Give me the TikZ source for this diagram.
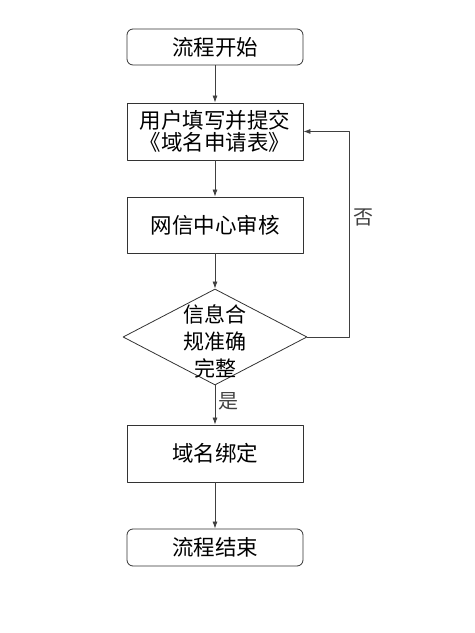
\documentclass[tikz,border=0pt]{standalone}
\usepackage{fontspec}
\setmainfont{Noto Sans CJK SC}
\usetikzlibrary{shapes.geometric,arrows.meta}
\begin{document}
\begin{tikzpicture}[>={Latex[length=7bp,width=5bp]},line join=bevel,
  procbox/.style={draw=black!80,line width=0.8bp,minimum width=176bp,inner sep=0pt,align=center,font=\fontsize{21.5bp}{22bp}\selectfont},
  termbox/.style={procbox,rounded corners=6bp,minimum height=37bp},
  flowline/.style={black!75,line width=0.8bp,->},
  edgelabel/.style={font=\fontsize{20bp}{22bp}\selectfont}]
\useasboundingbox (0bp,0bp) rectangle (475bp,633bp);
%%
\node (node_start) at (215bp,586bp) [termbox,minimum height=36bp] {流程开始};
  \node (node_fill) at (215bp,501.5bp) [procbox,minimum height=57bp] {用户填写并提交\\《域名申请表》};
  \node (node_review) at (215bp,408bp) [procbox,minimum height=56bp] {网信中心审核};
  \node (node_check) at (215bp,296bp) [draw=black!80,line width=0.8bp,diamond,aspect=1.92,minimum width=184bp,minimum height=96bp,inner sep=0pt,
    label={[align=center,font=\fontsize{21bp}{27bp}\selectfont,yshift=-4bp]center:信息合\\规准确\\完整}] {};
  \node (node_bind) at (215bp,179.5bp) [procbox,minimum height=57bp] {域名绑定};
  \node (node_end) at (215bp,85.5bp) [termbox] {流程结束};
%
  \draw [flowline] (node_start) -- (node_fill);
  \draw [flowline] (node_fill) -- (node_review);
  \draw [flowline] (node_review) -- (node_check);
  \draw [flowline] (node_check) -- node [edgelabel,right=0bp,pos=0.4] {是} (node_bind);
  \draw [flowline] (node_bind) -- (node_end);
  \draw [flowline] (node_check.east) -- ++(42bp,0bp) |- node [edgelabel,right=0bp,pos=0.29] {否} (node_fill.east);
%
\end{tikzpicture}
\end{document}
